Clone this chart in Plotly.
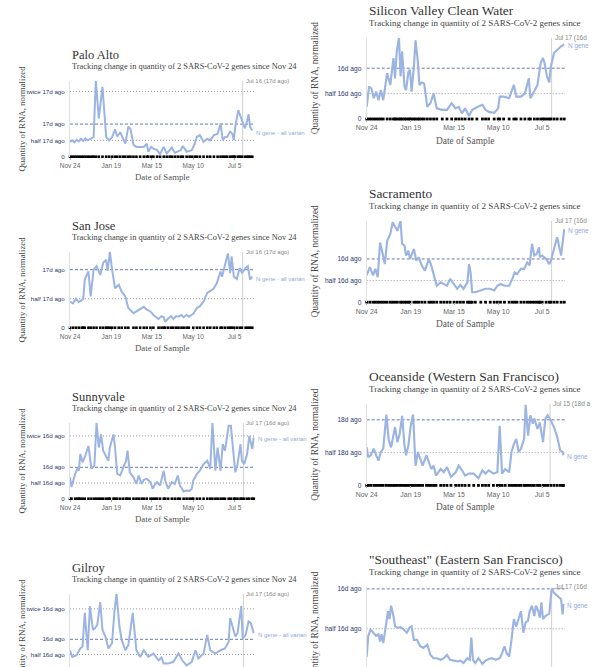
import plotly.graph_objects as go
import pandas as pd

START = "2020-11-24"
TICK_DATES = ["2020-11-24", "2021-01-19", "2021-03-15", "2021-05-10", "2021-07-05"]
TICK_TEXT = ["Nov 24", "Jan 19", "Mar 15", "May 10", "Jul 5"]
SUBTITLE = "Tracking change in quantity of 2 SARS-CoV-2 genes since Nov 24"

# (days since Nov 24, quantity relative to the reference "Nd ago" level)
PALO_ALTO = [(0,0.45),(3,0.5),(6,0.44),(9,0.52),(12,0.47),(15,0.55),(18,0.48),(21,0.56),(24,0.5),(27,0.54),(30,0.58),(32,0.6),(35,2.33),(39,1.17),(44,2.14),(49,0.61),(53,0.5),(57,0.6),(61,0.84),(64,0.62),(68,0.75),(72,0.55),(75,0.4),(79,0.92),(82,0.85),(86,0.36),(90,0.3),(95,0.3),(100,0.3),(104,0.4),(106,0.15),(110,0.3),(113,0.25),(118,0.2),(122,0.08),(127,0.3),(131,0.1),(135,0.2),(138,0.28),(142,0.12),(146,0.15),(150,0.2),(153,0.33),(158,0.15),(162,0.18),(165,0.2),(169,0.4),(172,0.61),(176,0.66),(181,0.45),(186,0.55),(190,0.5),(195,0.66),(200,0.7),(204,1.02),(207,0.51),(210,0.6),(213,0.61),(217,0.77),(220,0.7),(222,0.51),(224,0.92),(228,1.43),(230,1.3),(233,1.12),(237,0.87),(240,1.1),(242,1.3),(244,0.92),(247,0.8)]
SAN_JOSE = [(0,0.45),(4,0.42),(8,0.5),(12,0.44),(16,0.48),(18,0.5),(20,0.83),(25,0.97),(28,0.54),(32,1.0),(36,1.06),(41,0.91),(45,1.12),(49,1.17),(51,0.98),(54,1.31),(57,1.0),(61,0.68),(66,0.74),(70,0.62),(75,0.54),(79,0.34),(86,0.25),(90,0.28),(95,0.31),(100,0.36),(104,0.31),(109,0.28),(113,0.22),(120,0.15),(124,0.2),(127,0.18),(129,0.1),(133,0.16),(137,0.2),(140,0.15),(144,0.2),(147,0.19),(151,0.22),(154,0.18),(158,0.22),(161,0.19),(167,0.24),(172,0.34),(176,0.37),(181,0.45),(186,0.6),(190,0.63),(195,0.68),(199,0.77),(204,0.97),(206,0.88),(210,1.06),(214,1.28),(217,0.94),(219,1.23),(222,0.88),(226,0.84),(230,1.03),(233,0.94),(238,1.03),(241,1.06),(244,0.83),(247,0.88)]
SUNNYVALE = [(0,0.68),(2,0.37),(7,0.79),(10,0.95),(12,0.9),(14,1.42),(17,1.16),(20,1.32),(25,1.68),(29,0.95),(33,1.05),(36,2.42),(39,1.63),(42,2.05),(45,1.53),(49,1.37),(52,1.21),(54,1.63),(59,2.05),(61,1.63),(64,0.79),(68,0.74),(72,1.0),(76,1.21),(78,1.53),(81,0.84),(86,0.68),(90,0.47),(93,0.74),(97,0.47),(100,0.6),(104,0.63),(109,0.53),(112,0.32),(115,0.45),(118,0.53),(122,0.42),(127,0.89),(129,0.58),(133,0.32),(138,0.53),(142,0.47),(146,0.74),(149,0.42),(154,0.23),(158,0.26),(162,0.25),(165,0.32),(167,0.58),(172,0.79),(176,0.89),(181,1.1),(186,1.21),(190,0.95),(193,2.42),(197,0.89),(200,1.63),(204,0.89),(207,1.74),(210,1.53),(215,2.32),(218,2.32),(222,1.32),(224,0.84),(227,1.1),(231,1.74),(233,1.21),(236,1.1),(240,1.42),(243,2.0),(247,1.58),(249,1.95)]
GILROY = [(0,0.64),(3,0.42),(9,0.48),(14,0.7),(17,0.76),(20,1.87),(24,0.64),(27,2.09),(31,1.31),(34,1.37),(37,1.48),(41,2.22),(44,1.31),(48,1.09),(52,0.7),(57,0.87),(60,1.87),(63,2.5),(67,1.42),(70,0.98),(75,0.64),(79,0.81),(85,1.87),(90,0.64),(95,0.42),(100,0.64),(106,0.42),(113,0.53),(120,0.31),(124,0.4),(127,0.2),(133,0.2),(140,0.26),(147,0.53),(152,0.31),(158,0.14),(165,0.26),(170,0.64),(174,0.37),(181,0.53),(186,1.14),(190,0.64),(197,0.53),(204,0.64),(210,0.7),(215,0.92),(217,1.7),(220,1.42),(224,1.09),(227,1.2),(232,2.09),(234,1.03),(238,1.14),(242,1.59),(245,1.53),(249,1.2)]
SVCW = [(0,0.24),(3,0.64),(6,0.6),(9,0.41),(12,0.54),(15,0.37),(18,0.57),(21,0.37),(26,0.9),(30,0.67),(34,1.2),(36,0.8),(38,1.3),(41,1.6),(43,0.84),(45,1.33),(48,0.64),(50,0.57),(53,0.93),(55,0.97),(57,0.54),(60,1.03),(62,1.55),(65,1.13),(67,0.67),(70,0.72),(73,0.7),(77,0.24),(81,0.31),(85,0.5),(89,0.21),(96,0.18),(102,0.18),(108,0.31),(113,0.21),(117,0.24),(121,0.11),(125,0.21),(130,0.06),(134,0.18),(140,0.23),(147,0.28),(151,0.18),(155,0.14),(162,0.12),(167,0.21),(169,0.44),(174,0.44),(181,0.41),(187,0.67),(190,0.44),(196,0.44),(201,0.5),(206,0.8),(208,0.41),(213,0.57),(217,0.67),(221,1.1),(224,1.2),(226,1.1),(229,0.84),(232,0.72),(234,1.03),(238,1.3),(242,1.36),(247,1.43),(251,1.47)]
SACRAMENTO = [(0,0.62),(4,0.81),(8,0.62),(11,0.77),(14,0.58),(17,1.38),(20,1.15),(23,0.88),(26,1.42),(30,1.58),(33,1.85),(36,1.73),(39,1.65),(43,1.88),(45,1.35),(48,1.31),(50,1.08),(53,1.19),(55,1.0),(60,1.23),(63,0.96),(66,1.04),(70,0.85),(74,0.73),(79,1.0),(82,0.85),(85,0.62),(89,0.38),(94,0.46),(98,0.42),(102,0.38),(106,0.54),(111,0.4),(115,0.31),(119,0.4),(123,0.31),(128,0.46),(130,0.88),(132,0.69),(134,0.23),(138,0.23),(145,0.27),(151,0.31),(157,0.31),(162,0.27),(166,0.38),(170,0.42),(175,0.38),(181,0.38),(185,0.54),(188,0.69),(191,0.65),(196,0.77),(200,0.77),(204,0.92),(207,0.85),(210,1.35),(213,1.08),(216,1.12),(219,1.27),(220,1.04),(223,1.08),(228,1.0),(232,0.88),(234,0.96),(238,1.23),(242,1.5),(247,1.08),(251,1.69)]
OCEANSIDE = [(0,0.58),(2,0.43),(5,0.46),(9,0.56),(12,0.46),(15,0.38),(18,0.51),(21,0.56),(25,1.08),(28,0.69),(31,0.58),(34,0.74),(36,0.89),(39,0.66),(42,0.79),(45,1.06),(48,0.61),(50,0.46),(53,0.61),(56,0.91),(59,1.08),(62,0.3),(65,0.51),(68,0.41),(71,0.3),(76,0.46),(79,0.36),(82,0.25),(85,0.3),(88,0.15),(94,0.25),(98,0.2),(102,0.28),(107,0.13),(113,0.2),(117,0.3),(121,0.23),(125,0.15),(130,0.18),(136,0.18),(142,0.11),(147,0.23),(151,0.18),(155,0.23),(161,0.18),(166,0.2),(169,0.91),(172,0.18),(176,0.25),(181,0.2),(184,0.51),(187,0.63),(190,0.71),(193,0.51),(196,0.56),(200,0.71),(202,1.23),(205,0.76),(208,1.07),(211,0.94),(213,1.02),(217,0.86),(220,0.96),(224,0.66),(227,1.02),(230,1.07),(234,0.99),(238,0.89),(242,0.74),(246,0.53),(249,0.51),(250,0.46)]
SOUTHEAST = [(0,0.15),(2,0.41),(5,0.49),(9,0.45),(12,0.41),(15,0.43),(17,0.34),(19,0.43),(21,0.32),(25,0.58),(27,0.72),(29,0.62),(31,0.79),(34,0.66),(36,0.53),(39,0.51),(43,0.52),(47,0.49),(51,0.45),(54,0.51),(57,0.53),(60,0.36),(64,0.36),(68,0.28),(72,0.26),(77,0.3),(81,0.17),(85,0.13),(89,0.13),(94,0.11),(98,0.13),(102,0.17),(106,0.11),(111,0.1),(115,0.09),(119,0.1),(123,0.07),(128,0.13),(131,0.11),(133,0.39),(135,0.11),(138,0.07),(142,0.13),(147,0.06),(151,0.1),(155,0.12),(159,0.13),(164,0.11),(169,0.13),(172,0.19),(175,0.28),(178,0.19),(181,0.15),(184,0.36),(187,0.62),(190,0.53),(193,0.62),(196,0.72),(199,0.45),(202,0.58),(205,0.6),(207,0.72),(210,0.79),(213,0.66),(215,0.79),(218,0.72),(220,0.64),(222,0.83),(224,0.62),(227,0.66),(232,0.69),(235,1.0),(238,0.95),(242,0.91),(247,0.87),(249,0.68),(250,0.81)]

PANELS = [
    dict(title="Palo Alto", data=PALO_ALTO, ymax=2.33, ref="17d ago", mark="2021-07-16", mark_text="Jul 16 (17d ago)", label="N gene - all varian", col=0, row=0),
    dict(title="San Jose", data=SAN_JOSE, ymax=1.31, ref="17d ago", mark="2021-07-16", mark_text="Jul 16 (17d ago)", label="N gene - all varian", col=0, row=1),
    dict(title="Sunnyvale", data=SUNNYVALE, ymax=2.42, ref="16d ago", mark="2021-07-17", mark_text="Jul 17 (16d ago)", label="N gene - all varian", col=0, row=2),
    dict(title="Gilroy", data=GILROY, ymax=2.5, ref="16d ago", mark="2021-07-17", mark_text="Jul 17 (16d ago)", label="N gene - all varian", col=0, row=3),
    dict(title="Silicon Valley Clean Water", data=SVCW, ymax=1.6, ref="16d ago", mark="2021-07-17", mark_text="Jul 17 (16d", label="N gene", col=1, row=0),
    dict(title="Sacramento", data=SACRAMENTO, ymax=1.88, ref="16d ago", mark="2021-07-17", mark_text="Jul 17 (16d", label="N gene", col=1, row=1),
    dict(title="Oceanside (Western San Francisco)", data=OCEANSIDE, ymax=1.24, ref="18d ago", mark="2021-07-15", mark_text="Jul 15 (18d a", label="N gene", col=1, row=2),
    dict(title="\"Southeast\" (Eastern San Francisco)", data=SOUTHEAST, ymax=1.02, ref="16d ago", mark="2021-07-17", mark_text="Jul 17 (16d", label="N gene", col=1, row=3),
]

FW, FH = 609, 667
LINE = "#9bb4e2"
SERIF = "Liberation Serif"
SANS = "Liberation Sans"


def fx(px):
    return px / FW


def fy(py):
    return 1 - py / FH


start = pd.Timestamp(START)
fig = go.Figure()
layout = dict(width=FW, height=FH, margin=dict(l=0, r=0, t=0, b=0, pad=0, autoexpand=False),
              paper_bgcolor="white", plot_bgcolor="white", showlegend=False)
annotations = []
shapes = []

for i, p in enumerate(PANELS):
    n = i + 1
    xs = "" if n == 1 else str(n)
    if p["col"] == 0:
        L, H, s, ppd, days_span = 70.0, 76.0, 1.0, 0.738, 250
        Z = 156.7 + 171.0 * p["row"]
    else:
        L, H, s, ppd, days_span = 366.7, 81.3, 1.07, 0.787, 252
        Z = 119.0 + 183.2 * p["row"]
    W = ppd * days_span
    ymax = p["ymax"]
    unit = H / ymax
    top = Z - H
    bot = min(Z, FH)
    ylo = (Z - bot) / unit
    off_page = Z > FH - 1

    days = [d for d, _ in p["data"]]
    vals = [v for _, v in p["data"]]
    dates = [start + pd.Timedelta(days=d) for d in days]

    if not off_page:
        fig.add_trace(go.Scatter(x=dates, y=[0] * len(dates), mode="markers",
                                 marker=dict(symbol="square", size=2.6 * s, color="black", line=dict(width=0)),
                                 cliponaxis=False, xaxis="x" + xs, yaxis="y" + xs, hoverinfo="skip"))
    fig.add_trace(go.Scatter(x=dates, y=vals, mode="lines", line=dict(color=LINE, width=2 * s),
                             xaxis="x" + xs, yaxis="y" + xs))

    tv = [0, 0.5, 1]
    tt = ["0", "half " + p["ref"], p["ref"]]
    if ymax >= 2:
        tv.append(2)
        tt.append("twice " + p["ref"])

    layout["xaxis" + xs] = dict(
        domain=[fx(L), fx(L + W)], anchor="y" + xs, type="date", automargin=False,
        range=[start, start + pd.Timedelta(days=days_span)],
        tickvals=TICK_DATES, ticktext=TICK_TEXT, ticks="" if off_page else "outside", ticklen=2,
        showticklabels=not off_page,
        tickcolor="#aaa", tickfont=dict(family=SANS, size=6.5 * s, color="#666"),
        showgrid=False, zeroline=False, showline=False, fixedrange=True)
    layout["yaxis" + xs] = dict(
        domain=[fy(bot), fy(top)], anchor="x" + xs, range=[ylo, ymax], automargin=False,
        tickvals=tv, ticktext=tt, ticks="", ticklabelstandoff=3,
        tickfont=dict(family=SANS, size=6.2 * s, color="#2b3a6e"),
        showgrid=False, zeroline=False, showline=True, linecolor="#e2e2e2", linewidth=1,
        fixedrange=True)

    # reference level lines
    for lvl in tv[1:]:
        dashed = lvl == 1
        shapes.append(dict(type="line", xref="x" + xs + " domain", yref="y" + xs,
                           x0=0, x1=1, y0=lvl, y1=lvl, layer="below",
                           line=dict(color="#6b78b2" if dashed else "#9a9aa6",
                                     width=1, dash="3px,2px" if dashed else "1px,2px")))
    # marker line for latest reference date
    shapes.append(dict(type="line", xref="x" + xs, yref="y" + xs,
                       x0=p["mark"], x1=p["mark"], y0=max(-4 / unit, ylo), y1=ymax,
                       layer="below", line=dict(color="#d0d0d0", width=1)))

    annotations += [
        dict(text=p["title"], x=fx(L), y=fy(Z - 101.7 * s), xref="paper", yref="paper",
             xanchor="left", yanchor="middle", showarrow=False,
             font=dict(family=SERIF, size=12.5 * s, color="#333")),
        dict(text=SUBTITLE if p["col"] == 0 else SUBTITLE[:-7], x=fx(L), y=fy(Z - 90 * s),
             xref="paper", yref="paper", xanchor="left", yanchor="middle", showarrow=False,
             font=dict(family=SERIF, size=8.4 * s, color="#444")),
        dict(text="Quantity of RNA, normalized", x=fx(L - 48.3 * s), y=fy(Z - H / 2),
             xref="paper", yref="paper", xanchor="center", yanchor="middle", textangle=-90,
             showarrow=False, font=dict(family=SERIF, size=8.8 * s, color="#444")),
        dict(text=p["mark_text"], x=p["mark"], y=ymax, xref="x" + xs, yref="y" + xs,
             xanchor="left", yanchor="middle", xshift=1, showarrow=False,
             font=dict(family=SANS, size=6 * s, color="#888")),
        dict(text=p["label"], x=dates[-1], y=vals[-1], xref="x" + xs, yref="y" + xs,
             xanchor="left", yanchor="middle", xshift=2, yshift=-2, showarrow=False,
             font=dict(family=SANS, size=6 * s, color="#8fa9dc")),
    ]
    if not off_page:
        annotations.append(
            dict(text="Date of Sample", x=fx(L + W / 2), y=fy(Z + 20.5 * s), xref="paper", yref="paper",
                 xanchor="center", yanchor="middle", showarrow=False,
                 font=dict(family=SERIF, size=8.8 * s, color="#555")))

layout["annotations"] = annotations
layout["shapes"] = shapes
fig.update_layout(**layout)

fig.write_html("out.html", config={"displayModeBar": False},
               post_script="document.body.style.margin='0';document.body.style.overflow='hidden';")
